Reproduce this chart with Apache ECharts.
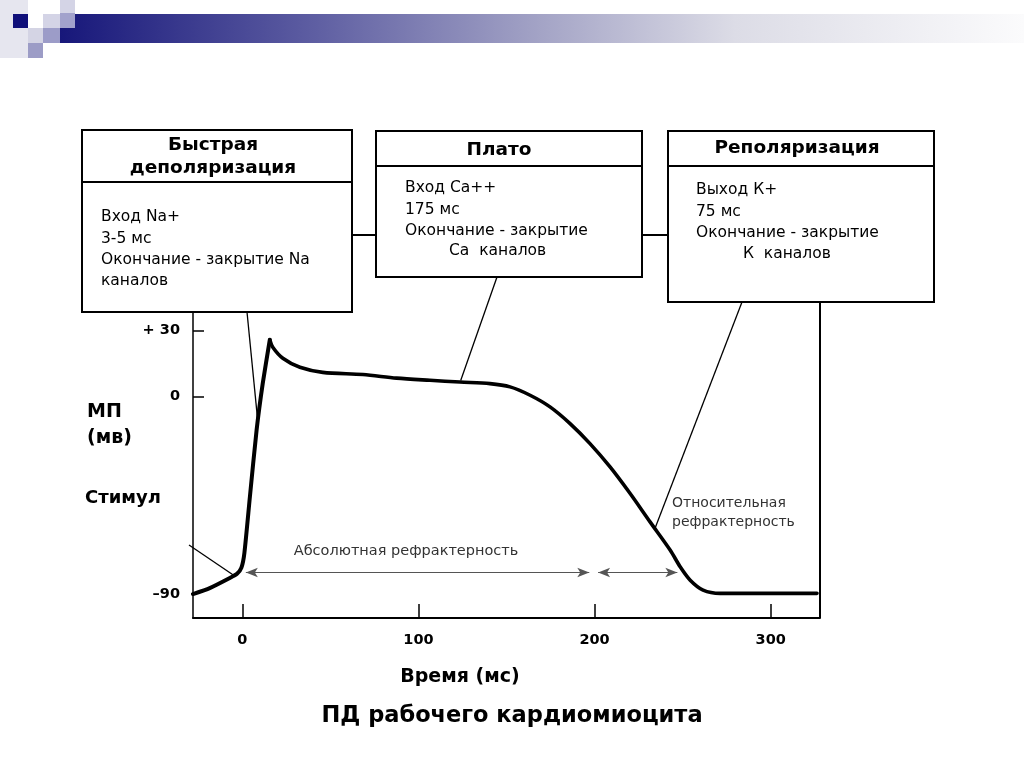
<!DOCTYPE html>
<html><head><meta charset="utf-8">
<script src="https://cdn.jsdelivr.net/npm/echarts@6/dist/echarts.min.js"></script>
<style>html,body{margin:0;padding:0;background:#fff}#c{width:1024px;height:767px}</style>
</head><body><div id="c"></div>
<script>
// Action potential of a working cardiomyocyte
const timeMs = [-28, -18.5, -7.1, -3.0, -0.5, 1.2, 4.3, 8.1, 11.6, 15.6, 17.3, 23.0, 32.7, 45.7, 68.5, 87.6, 106.5, 123.6, 140.6, 152.0, 163.4, 174.7, 186.1, 197.4, 208.8, 220.2, 231.5, 242.9, 248.6, 254.3, 261.6, 271.3, 326.3];
const potentialMv = [-89.8, -87.1, -82.5, -80.6, -77.8, -71.0, -45.6, -15.3, 6.0, 25.8, 22.4, 17.4, 13.3, 11.0, 10.0, 8.4, 7.4, 6.6, 5.9, 4.4, 0.6, -4.7, -12.3, -21.4, -32.0, -44.1, -57.0, -69.8, -77.4, -83.5, -88.0, -89.5, -89.5];
const xTicks = [0, 100, 200, 300];
const yTicks = [-90, 0, 30];
const yTickLabels = ['\u201390', '0', '+ 30'];
const yTickMarks = [0, 30];
const absRefractory = [2, 197];
const relRefractory = [202, 247];
const refractoryLevel = -80;
const leaderTargets = { fast: [9, -13], plateau: [124, 7.3], repol: [234.4, -59.8], stim: [-4.3, -81.6] };

const FONT = '"DejaVu Sans", Verdana, sans-serif';
const chart = echarts.init(document.getElementById('c'));
const pts = timeMs.map((t, i) => [t, potentialMv[i]]);
const peak = potentialMv.indexOf(Math.max(...potentialMv));

chart.setOption({
  animation: false,
  backgroundColor: '#fff',
  grid: { left: 193, right: 204, top: 313, bottom: 149, containLabel: false },
  xAxis: {
    type: 'value', min: -28, max: 328,
    axisLine: { show: true, onZero: false, lineStyle: { color: '#000', width: 2 } },
    axisTick: { show: true, inside: true, length: 14, customValues: xTicks, lineStyle: { color: '#000', width: 1.5 } },
    axisLabel: { customValues: xTicks, margin: 15, color: '#000', fontFamily: FONT, fontWeight: 'bold', fontSize: 14.5 },
    splitLine: { show: false }
  },
  yAxis: {
    type: 'value', min: -100.7, max: 38,
    axisLine: { show: true, onZero: false, lineStyle: { color: '#000', width: 1.5 } },
    axisTick: { show: true, inside: true, length: 11, customValues: yTickMarks, lineStyle: { color: '#000', width: 1.5 } },
    axisLabel: { customValues: yTicks, margin: 13, color: '#000', fontFamily: FONT, fontWeight: 'bold', fontSize: 14.5,
      formatter: v => { const i = yTicks.indexOf(v); return i >= 0 ? yTickLabels[i] : ''; } },
    splitLine: { show: false }
  },
  series: [{
    type: 'line', data: pts.slice(0, peak + 1), showSymbol: false, silent: true, smooth: 0.2,
    lineStyle: { color: '#000', width: 4, join: 'round', cap: 'round' },
    markLine: {
      silent: true, symbol: ['arrow', 'arrow'], symbolSize: [7, 12],
      label: { show: false },
      lineStyle: { color: '#555', width: 1, type: 'solid' },
      itemStyle: { color: '#222' },
      data: [
        [{ coord: [absRefractory[0], refractoryLevel] }, { coord: [absRefractory[1], refractoryLevel] }],
        [{ coord: [relRefractory[0], refractoryLevel] }, { coord: [relRefractory[1], refractoryLevel] }]
      ]
    }
  }, {
    type: 'line', data: pts.slice(peak), showSymbol: false, silent: true, smooth: 0.3,
    lineStyle: { color: '#000', width: 3.6, join: 'round', cap: 'round' }
  }]
});

const px = p => chart.convertToPixel({ xAxisIndex: 0, yAxisIndex: 0 }, p);
const txt = (text, x, y, size, weight, align, color) => ({
  type: 'text', z: 20,
  style: { text, x, y, font: (weight || 'normal') + ' ' + size + 'px ' + FONT, fill: color || '#000', textAlign: align || 'left', textVerticalAlign: 'middle' }
});
const line = (x1, y1, x2, y2, w, color) => ({ type: 'line', z: 15, shape: { x1, y1, x2, y2 }, style: { stroke: color || '#000', lineWidth: w || 1.3 } });
const rect = (x, y, w, h, fill, stroke, lw, z) => ({ type: 'rect', z: z || 10, shape: { x, y, width: w, height: h }, style: { fill, stroke: stroke || null, lineWidth: lw || 0 } });

const f = px(leaderTargets.fast), p2 = px(leaderTargets.plateau), r = px(leaderTargets.repol), s = px(leaderTargets.stim);
const absY = px([0, refractoryLevel])[1];

const g = [
  // template decoration
  { type: 'rect', z: 1, shape: { x: 60, y: 14, width: 964, height: 29 }, style: { fill: { type: 'linear', x: 0, y: 0, x2: 1, y2: 0, colorStops: [
    { offset: 0, color: '#17177a' }, { offset: 0.25, color: '#5a5aa0' }, { offset: 0.5, color: '#a4a4c6' }, { offset: 0.7, color: '#dcdce6' }, { offset: 1, color: '#fbfbfc' }] } } },
  rect(0, 0, 28, 58, '#e6e6ef', null, 0, 2),
  rect(13, 14, 15, 14, '#10107a', null, 0, 3),
  rect(28, 28, 15, 15, '#d4d4e4', null, 0, 3),
  rect(28, 43, 15, 15, '#9c9cc6', null, 0, 3),
  rect(43, 14, 17, 14, '#d4d4e6', null, 0, 3),
  rect(43, 28, 17, 15, '#9c9cc8', null, 0, 3),
  rect(60, 0, 15, 13, '#d4d4e6', null, 0, 3),
  rect(60, 13, 15, 15, '#a2a2cc', null, 0, 3),

  // connectors between boxes and right frame
  line(352, 235, 376, 235, 2), line(642, 235, 668, 235, 2),
  line(820, 302, 820, 618, 2),

  // leader lines
  line(247, 312, f[0], f[1], 1.3),
  line(497, 277, p2[0], p2[1], 1.3),
  line(742, 302, r[0], r[1], 1.3),
  line(189, 545, s[0], s[1], 1.3),

  // box 1
  rect(82, 130, 270, 182, '#fff', '#000', 2),
  line(82, 182, 352, 182, 2),
  txt('Быстрая', 213, 145, 18.5, 'bold', 'center'),
  txt('деполяризация', 213, 168, 18.5, 'bold', 'center'),
  txt('Вход Na+', 101, 217, 15.5),
  txt('3-5 мс', 101, 239, 15.5),
  txt('Окончание - закрытие Na', 101, 260, 15.5),
  txt('каналов', 101, 281, 15.5),

  // box 2
  rect(376, 131, 266, 146, '#fff', '#000', 2),
  line(376, 166, 642, 166, 2),
  txt('Плато', 499, 150, 18.5, 'bold', 'center'),
  txt('Вход Са++', 405, 188, 15.5),
  txt('175 мс', 405, 210, 15.5),
  txt('Окончание - закрытие', 405, 231, 15.5),
  txt('Са  каналов', 449, 251, 15.5),

  // box 3
  rect(668, 131, 266, 171, '#fff', '#000', 2),
  line(668, 166, 934, 166, 2),
  txt('Реполяризация', 797, 148, 18.5, 'bold', 'center'),
  txt('Выход К+', 696, 190, 15.5),
  txt('75 мс', 696, 212, 15.5),
  txt('Окончание - закрытие', 696, 233, 15.5),
  txt('К  каналов', 743, 254, 15.5),

  // refractory labels
  txt('Абсолютная рефрактерность', 406, absY - 21, 14.5, 'normal', 'center', '#333'),
  txt('Относительная', 672, 503, 14, 'normal', 'left', '#333'),
  txt('рефрактерность', 672, 522, 14, 'normal', 'left', '#333'),

  // axis titles
  txt('МП', 87, 412, 19, 'bold'),
  txt('(мв)', 87, 438, 19, 'bold'),
  txt('Стимул', 85, 498, 18, 'bold'),
  txt('Время (мс)', 460, 677, 19, 'bold', 'center'),
  txt('ПД рабочего кардиомиоцита', 512, 716, 22.5, 'bold', 'center')
];
chart.setOption({ graphic: { elements: g } });
</script></body></html>
